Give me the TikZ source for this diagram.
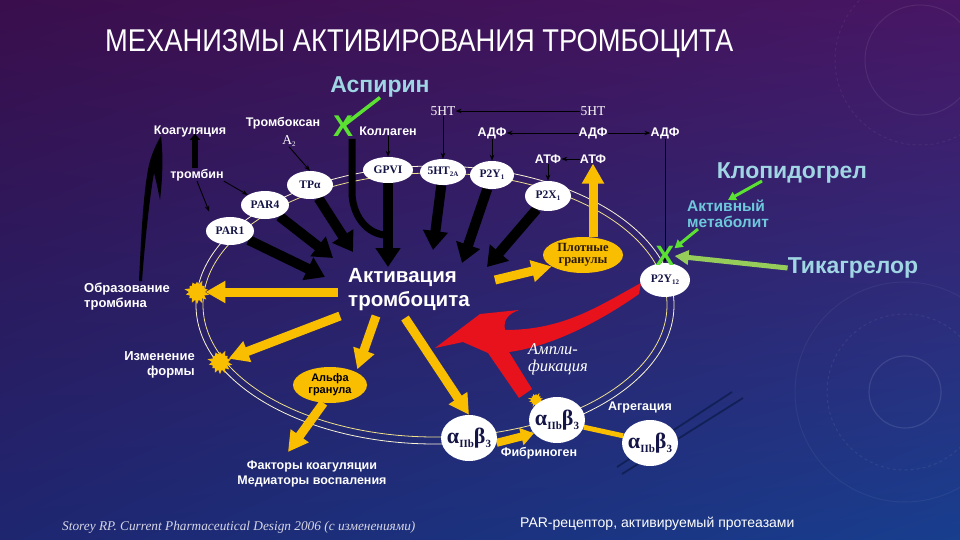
\documentclass[tikz,border=0pt]{standalone}
\usepackage{fontspec}
\usepackage{graphicx}
\setmainfont{Liberation Serif}
\newfontfamily\sans{Liberation Sans}
\newfontfamily\serif{Liberation Serif}
\usetikzlibrary{shapes.geometric,shapes.symbols,arrows.meta,calc,shadings}
\pgfdeclarelayer{back}
\pgfdeclarelayer{mid}
\pgfsetlayers{back,mid,main}
\newcommand\fsz[2]{\fontsize{#1}{#2}\selectfont}
\newcommand\sbs[1]{\raisebox{-0.35ex}{\fontsize{7}{8}\selectfont #1}}
\newcommand\sbb[1]{\raisebox{-0.4ex}{\fontsize{11}{12}\selectfont #1}}
\definecolor{ylw}{RGB}{250,190,0}
\definecolor{rd}{RGB}{232,18,28}
\definecolor{grn}{RGB}{90,225,50}
\definecolor{lgrn}{RGB}{150,205,90}
\definecolor{cy}{RGB}{160,214,228}
\definecolor{cy2}{RGB}{110,200,220}
\definecolor{navy}{RGB}{20,20,70}
\definecolor{mem}{RGB}{240,225,140}
\definecolor{memw}{RGB}{250,245,215}
\definecolor{plt}{RGB}{18,32,88}
\definecolor{bgul}{RGB}{58,14,76}
\definecolor{bgur}{RGB}{72,22,100}
\definecolor{bgll}{RGB}{30,38,112}
\definecolor{bglr}{RGB}{24,62,142}
\definecolor{refc}{RGB}{215,215,230}
\definecolor{dtext}{RGB}{40,25,10}
\begin{document}
\begin{tikzpicture}[x=1pt,y=-1pt,
 rec/.style={ellipse, fill=white, inner sep=0pt, text=navy, font=\serif\bfseries\fsz{11.5}{12}},
 ab/.style={ellipse, fill=white, inner sep=-3pt, minimum width=56pt, minimum height=46pt, text=navy, font=\serif\bfseries\fsz{22}{24}},
 lbl/.style={text=white, font=\sans\bfseries\fsz{12.5}{15}, inner sep=0pt},
 ser/.style={text=white, font=\serif\fsz{13.5}{15}, inner sep=0pt},
 bigl/.style={text=cy, font=\sans\bfseries\fsz{23}{26}, inner sep=0pt},
 tarr/.style={black, line width=0.9pt, -{Stealth[length=6pt,width=4.5pt]}},
 fat/.style={black, line width=10pt, -{Triangle[length=19pt,width=24pt]}},
 yarr/.style={ylw, line width=9pt, -{Triangle[length=20pt,width=21pt]}},
 burst/.style={starburst, starburst points=14, starburst point height=5pt, fill=ylw, inner sep=0pt, minimum size=26pt, random starburst=42},
 garr/.style={grn, line width=3pt, -{Triangle[length=8pt,width=9pt]}}
]
\useasboundingbox (0,0) rectangle (960,540);
\begin{pgfonlayer}{back}
\shade[upper left=bgul, upper right=bgur, lower left=bgll, lower right=bglr]
  (0,0) rectangle (960,540);
\begin{scope}
\clip (0,0) rectangle (960,540);
\draw[white, opacity=0.10, line width=1.2pt] (905,392) circle [radius=36];
\draw[white, opacity=0.07, line width=1pt, dashed] (905,392) circle [radius=78];
\draw[white, opacity=0.05, line width=1pt] (905,392) circle [radius=110];
\draw[white, opacity=0.08, line width=1pt] (920,60) circle [radius=55];
\draw[white, opacity=0.06, line width=1pt, dashed] (920,60) circle [radius=85];
\end{scope}
% membrane
\draw[mem, line width=0.8pt] (435,305) ellipse [x radius=232, y radius=132];
\draw[memw, line width=0.8pt] (435,305) ellipse [x radius=239, y radius=139];
% second platelet
\draw[plt, line width=1.8pt] (617,467) -- (732,392);
\draw[plt, line width=1.8pt] (622,474) -- (743,398);
\end{pgfonlayer}

% title
\node[anchor=base west, inner sep=0pt, text=white] (title) at (105,52)
  {\resizebox{628pt}{22pt}{\sans МЕХАНИЗМЫ АКТИВИРОВАНИЯ ТРОМБОЦИТА}};

% receptors
\node[rec, minimum width=48pt, minimum height=28pt] (par1) at (230,231) {PAR1};
\node[rec, minimum width=48pt, minimum height=28pt] (par4) at (265,205) {PAR4};
\node[rec, minimum width=46pt, minimum height=28pt] (tpa) at (310,185) {TPα};
\node[rec, minimum width=50pt, minimum height=26pt] (gpvi) at (388,170) {GPVI};
\node[rec, minimum width=46pt, minimum height=26pt] (ht2a) at (443,172) {5HT\sbs{2A}};
\node[rec, minimum width=44pt, minimum height=28pt] (p2y1) at (492,175) {P2Y\sbs{1}};
\node[rec, minimum width=46pt, minimum height=30pt] (p2x1) at (548,196) {P2X\sbs{1}};
\node[rec, minimum width=50pt, minimum height=34pt] (p2y12) at (665,280) {P2Y\sbs{12}};

% granules
\node[ellipse, fill=ylw, minimum width=80pt, minimum height=36pt, inner sep=-2pt, align=center,
  font=\serif\bfseries\fsz{12.5}{12}, text=dtext] (dense) at (583,255) {Плотные\\гранулы};
\node[ellipse, fill=ylw, minimum width=74pt, minimum height=36pt, inner sep=-2pt, align=center,
  font=\sans\bfseries\fsz{11}{12}, text=black] (alfa) at (330,385) {Альфа\\гранула};

% bursts
\node[burst] (burst1) at (197,292) {};
\node[burst] (burst2) at (220,362) {};
\node[burst, minimum size=17pt, starburst point height=4pt] (burst3) at (536,400) {};

% integrins
\node[ab] (a1) at (469,438) {α\sbb{IIb}β\sbb{3}};
\node[ab] (a2) at (557,420) {α\sbb{IIb}β\sbb{3}};
\node[ab] (a3) at (650,443) {α\sbb{IIb}β\sbb{3}};

% labels
\node[lbl] (koag) at (190,131) {Коагуляция};
\node[lbl] (tromb) at (197,175) {тромбин};
\node[lbl] (tbx) at (283,123) {Тромбоксан};
\node[ser] (a2l) at (289,141) {A\sbs{2}};
\node[lbl] (koll) at (388,131) {Коллаген};
\node[ser] (hta) at (443,111) {5HT};
\node[ser] (htb) at (593,111) {5HT};
\node[lbl] (adf1) at (492,133) {АДФ};
\node[lbl] (adf2) at (593,133) {АДФ};
\node[lbl] (adf3) at (665,133) {АДФ};
\node[lbl] (atf1) at (548,159) {АТФ};
\node[lbl] (atf2) at (593,159) {АТФ};
\node[text=white, font=\sans\bfseries\fsz{20.5}{24}, align=left, anchor=west, inner sep=0pt] (act) at (348,290) {Активация\\тромбоцита};
\node[lbl, align=left, anchor=west, font=\sans\bfseries\fsz{13}{15}] (obr) at (84,297) {Образование\\тромбина};
\node[lbl, align=right, anchor=east, font=\sans\bfseries\fsz{13}{15}] (izm) at (195,365) {Изменение\\формы};
\node[lbl, align=center] (fact) at (312,474) {Факторы коагуляции\\Медиаторы воспаления};
\node[lbl] (fib) at (539,453) {Фибриноген};
\node[lbl] (agr) at (640,407) {Агрегация};
\node[text=white, font=\serif\itshape\fsz{16.5}{17}, align=left, inner sep=0pt] (ampl) at (558,359) {Ампли-\\фикация};
\node[text=refc, font=\serif\itshape\fsz{13.3}{14}, inner sep=0pt, anchor=west] (ref) at (62,527) {Storey RP. Current Pharmaceutical Design 2006 (с изменениями)};
\node[text=white, font=\sans\fsz{14}{15}, inner sep=0pt, anchor=west] (parn) at (520,524) {PAR-рецептор, активируемый протеазами};

% drugs
\node[bigl] (asp) at (380,87) {Аспирин};
\node[bigl] (klop) at (792,173) {Клопидогрел};
\node[bigl] (tik) at (853,268) {Тикагрелор};
\node[text=cy2, font=\sans\bfseries\fsz{15.5}{16}, align=left, inner sep=0pt] (akt) at (728,214) {Активный\\метаболит};
\node[text=grn, font=\sans\bfseries\fsz{30}{30}, inner sep=0pt] (xa) at (343,126) {X};
\node[text=grn, font=\sans\bfseries\fsz{28}{28}, inner sep=0pt] (xp) at (665,256) {X};

\begin{pgfonlayer}{mid}
% thromboxane line into collagen arrow
\coordinate (j0) at (352,139);
\draw[black, line width=7pt] (j0) -- (352,192) to[out=-90,in=180] ($(gpvi.south)+(0,52)$);
% fat black arrows
\coordinate (h1) at (325,277);
\coordinate (h2) at (333,258);
\coordinate (h3) at (353,252);
\coordinate (h4) at (388,267);
\coordinate (h5) at (433,250);
\coordinate (h6) at (462,263);
\coordinate (h7) at (487,267);
\draw[fat] (par1) -- (h1);
\draw[fat] (par4) -- (h2);
\draw[fat] (tpa) -- (h3);
\draw[fat] (gpvi) -- (h4);
\draw[fat] (ht2a) -- (h5);
\draw[fat] (p2y1) -- (h6);
\draw[fat] (p2x1) -- (h7);
% coagulation arrows
\draw[black, line width=6pt, -{Triangle[length=6pt,width=10pt]}] ($(tromb.north)+(-2,-1)$) -- ($(koag.south)+(5,-3)$);
\fill[black] (139,281) .. controls (141,240) and (143,200) .. (147,176)
  .. controls (149,160) and (154,148) .. (161,136)
  .. controls (163,152) and (163,175) .. (160,200)
  .. controls (158,190) and (156,180) .. (154,173)
  .. controls (150,195) and (145,240) .. (142,281) -- cycle;
% yellow arrows
\coordinate (y1) at (338,292);
\coordinate (y2) at (340,316);
\coordinate (y3) at (376,316);
\coordinate (y4) at (405,318);
\coordinate (y5) at (495,280);
\coordinate (y6) at (288,452);
\draw[yarr] (y1) -- (burst1);
\draw[yarr] (y2) -- (burst2);
\draw[yarr, shorten >=3pt] (y3) -- (alfa.north east);
\draw[yarr] (y4) -- (a1.north);
\draw[yarr] (y5) -- (dense.200);
\draw[yarr] (dense.north -| atf2) -- (atf2.south);
\draw[yarr] (alfa.250) -- (y6);
\draw[ylw, line width=8pt, -{Triangle[length=13pt,width=17pt]}] (a1.-10) -- (a2.210);
\draw[ylw, line width=5pt] (a2.-15) -- (a3.165);
% red amplification arrow
\fill[rd] (641,283) .. controls (600,305) and (565,330) .. (505,330)
  .. controls (503,320) and (508,314) .. (519,310)
  -- (480,314) -- (435,348) -- (463,342) -- (488,353) -- (519,398) -- (532,389) -- (509,352)
  .. controls (555,346) and (605,318) .. (639,294) -- cycle;
% thin arrows
\draw[tarr] (htb.west) -- (hta.east);
\draw[tarr] (adf2.west) -- (adf1.east);
\draw[tarr] (adf2.east) -- (adf3.west);
\draw[tarr] (atf2.west) -- (atf1.east);
\draw[tarr] (hta.south) -- (ht2a.north);
\draw[tarr] (adf1.south) -- (p2y1.north);
\draw[tarr] (atf1.south) -- (p2x1.north);
\draw[tarr] (adf3.south) -- (p2y12.north);
\draw[tarr] (koll.south) -- (gpvi.north);
\draw[tarr] (a2l.south) -- (tpa.north);
\draw[tarr, shorten >=10pt] (tromb.south) -- (par1.north west);
\draw[tarr] (tromb.south east) -- (par4.north west);
% green arrows
\draw[grn, line width=3.5pt] (asp.south) -- (xa.center);
\coordinate (g1) at (762,181);
\coordinate (g2) at (698,229);
\draw[garr] (g1) -- (akt.north);
\draw[garr] (g2) -- (xp);
\draw[lgrn, line width=5pt, -{Triangle[length=14pt,width=14pt]}] (tik.west) -- (xp.east);
\end{pgfonlayer}
\end{tikzpicture}
\end{document}
